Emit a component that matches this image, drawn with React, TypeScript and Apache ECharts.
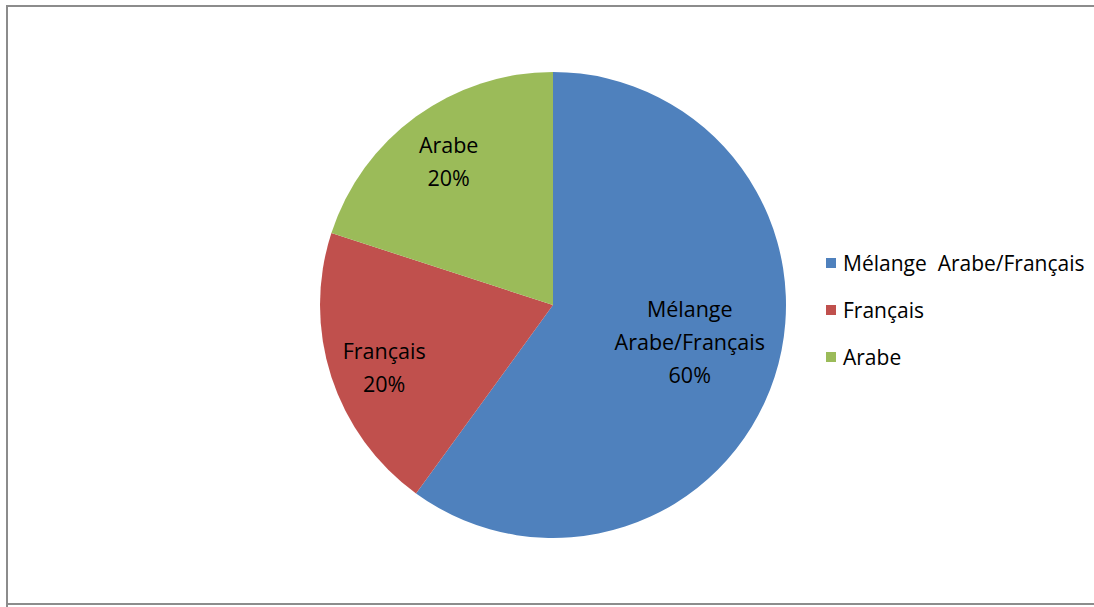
import React, { useEffect, useRef } from "react";
import * as echarts from "echarts";

const categories = ["Mélange  Arabe/Français", "Français", "Arabe"];
const labelNames = ["Mélange\nArabe/Français", "Français", "Arabe"];
const values = [60, 20, 20];
const colors = ["#4F81BD", "#C0504D", "#9BBB59"];

const FONT = "'Open Sans', sans-serif";

export default function App() {
  const ref = useRef<HTMLDivElement>(null);
  useEffect(() => {
    document.body.style.margin = "0";
    const chart = echarts.init(ref.current!, null, { renderer: "svg" });
    const baseData = categories.map((c, i) => ({
      name: c,
      value: values[i],
      itemStyle: { color: colors[i] },
    }));
    const labelSeries = (r0: number, showIdx: number[], offset: number[]) => ({
      type: "pie",
      center: [553, 305],
      radius: [r0, 233],
      startAngle: 90,
      silent: true,
      legendHoverLink: false,
      z: 5,
      itemStyle: { color: "transparent" },
      data: categories.map((c, i) => ({
        name: c,
        value: values[i],
        itemStyle: { color: "transparent" },
        label: {
          show: showIdx.includes(i),
          position: "inside",
          formatter: () => `${labelNames[i]}\n${values[i]}%`,
          color: "#000",
          fontFamily: FONT,
          fontSize: 21.5,
          lineHeight: 33,
          offset: i === 1 ? offset : i === 0 ? offset : [0, 0],
        },
      })),
      labelLine: { show: false },
    });
    chart.setOption({
      animation: false,
      backgroundColor: "#fff",
      color: colors,
      graphic: [
        {
          type: "polyline",
          shape: { points: [[7, 610], [7, 6], [1100, 6]] },
          style: { stroke: "#8c8c8c", lineWidth: 2, fill: "none" },
        },
        {
          type: "line",
          shape: { x1: 6, y1: 604, x2: 1100, y2: 604 },
          style: { stroke: "#8c8c8c", lineWidth: 2 },
        },
      ],
      legend: {
        orient: "vertical",
        left: 821,
        top: 245,
        icon: "rect",
        itemWidth: 10,
        itemHeight: 10,
        itemGap: 21,
        data: categories,
        selectedMode: false,
        textStyle: { fontFamily: FONT, fontSize: 21, color: "#000", padding: [0, 0, 0, 2], lineHeight: 26 },
      },
      series: [
        {
          type: "pie",
          center: [553, 305],
          radius: [0, 233],
          startAngle: 90,
          data: baseData,
          label: { show: false },
          labelLine: { show: false },
        },
        labelSeries(57, [0], [-4, -9]),
        labelSeries(116, [1, 2], [0, 7]),
      ],
    });
    return () => chart.dispose();
  }, []);
  return <div ref={ref} style={{ width: 1094, height: 607 }} />;
}
